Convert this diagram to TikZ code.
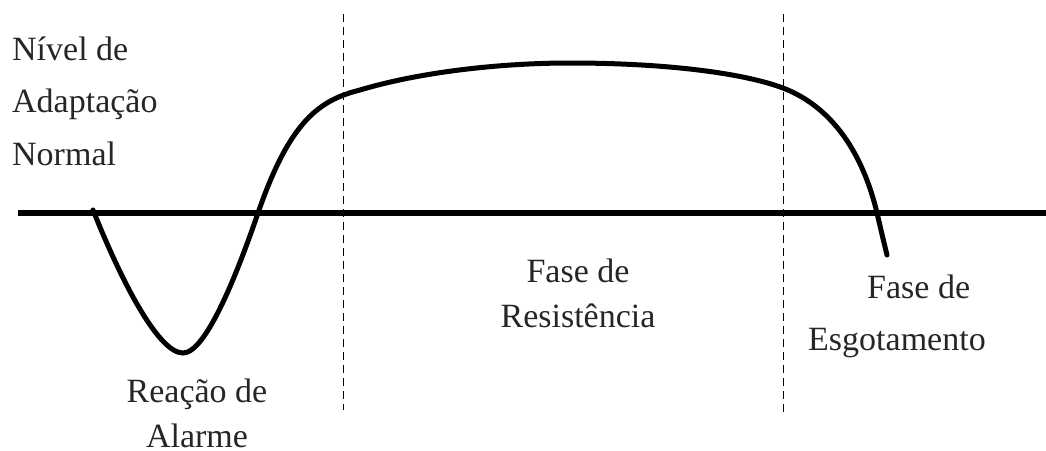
\documentclass[tikz,border=0pt]{standalone}
\usepackage{fontspec}
\setmainfont{Liberation Serif}
\begin{document}
\begin{tikzpicture}[x=1pt,y=-1pt,
  lbl/.style={font=\fontsize{34}{40}\selectfont, inner sep=0pt, text=black!85},
  axisline/.style={line width=6.5pt},
  curveline/.style={line width=5pt, line cap=round},
  phaseline/.style={line width=1pt, dash pattern=on 8pt off 5pt}]
\useasboundingbox (0,0) rectangle (1046,450);
% coordinates
\coordinate (axL) at (18,213);
\coordinate (axR) at (1046,213);
\coordinate (d1t) at (343,14);
\coordinate (d1b) at (343,410);
\coordinate (d2t) at (783,14);
\coordinate (d2b) at (783,412);
% dashed phase separators
\draw[phaseline] (d1t) -- (d1b);
\draw[phaseline] (d2t) -- (d2b);
% axis
\draw[axisline] (axL) -- (axR);
% curve
\draw[curveline] (93,210)
  .. controls (125,290) and (160,353) .. (183,353)
  .. controls (205,353) and (235,280) .. (258,213)
  .. controls (290,120) and (320,100) .. (360,90)
  .. controls (420,72) and (500,63) .. (570,63)
  .. controls (660,63) and (740,72) .. (783,88)
  .. controls (830,106) and (862,150) .. (877,213)
  .. controls (881,230) and (884,243) .. (887,255);
% labels
\node[lbl, anchor=base west] (n1) at (12,60) {Nível de};
\node[lbl, anchor=base west] (n2) at (12,112) {Adaptação};
\node[lbl, anchor=base west] (n3) at (12,165) {Normal};
\node[lbl, anchor=base] (r1) at (197,402) {Reação de};
\node[lbl, anchor=base] (r2) at (197,447) {Alarme};
\node[lbl, anchor=base] (f1) at (578,282) {Fase de};
\node[lbl, anchor=base] (f2) at (578,327) {Resistência};
\node[lbl, anchor=base west] (e1) at (867,298) {Fase de};
\node[lbl, anchor=base west] (e2) at (808,350) {Esgotamento};
\end{tikzpicture}
\end{document}
